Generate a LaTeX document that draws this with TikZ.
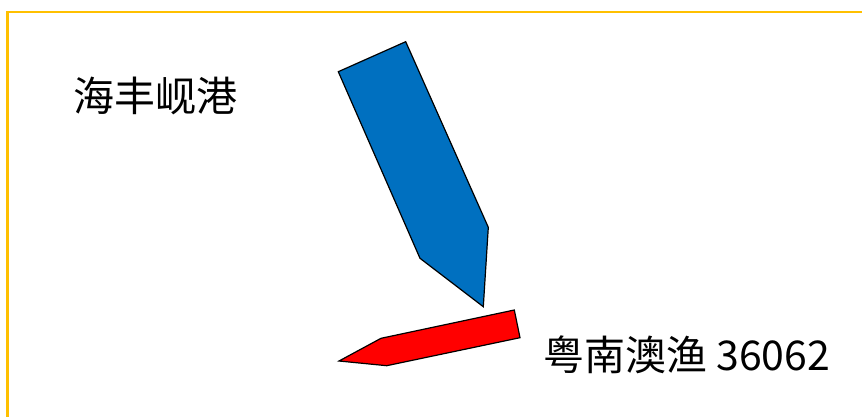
\documentclass[tikz,border=0pt]{standalone}
\usepackage{fontspec}
\newfontfamily\cjk{Noto Sans CJK SC}
\definecolor{frameyellow}{HTML}{FFC000}
\definecolor{boatblue}{HTML}{0070C0}
\definecolor{boatred}{HTML}{FF0000}
\begin{document}
\begin{tikzpicture}[x=1pt,y=-1pt,
  boat/.style={draw=black,line width=1.2pt,line join=miter},
  lbl/.style={font=\cjk\fontsize{41}{45}\selectfont,inner sep=0pt,anchor=west}]
\useasboundingbox (0,0) rectangle (862,417);
\fill[white] (0,0) rectangle (862,417);
\draw[frameyellow,line width=2.2pt] (7.5,417) -- (7.5,12) -- (862,12);
\draw[boat,fill=boatblue] (338.3,71.7) -- (405.7,41.7) -- (488.3,227.3) -- (483.3,306.7) -- (420,258.3) -- cycle;
\draw[boat,fill=boatred] (339,361) -- (381,338.3) -- (514.3,310) -- (520,337.7) -- (386.7,365.7) -- cycle;
\node[lbl] (a) at (73,96) {海丰岘港};
\node[lbl] (b) at (543,355) {粤南澳渔 36062};
\end{tikzpicture}
\end{document}
